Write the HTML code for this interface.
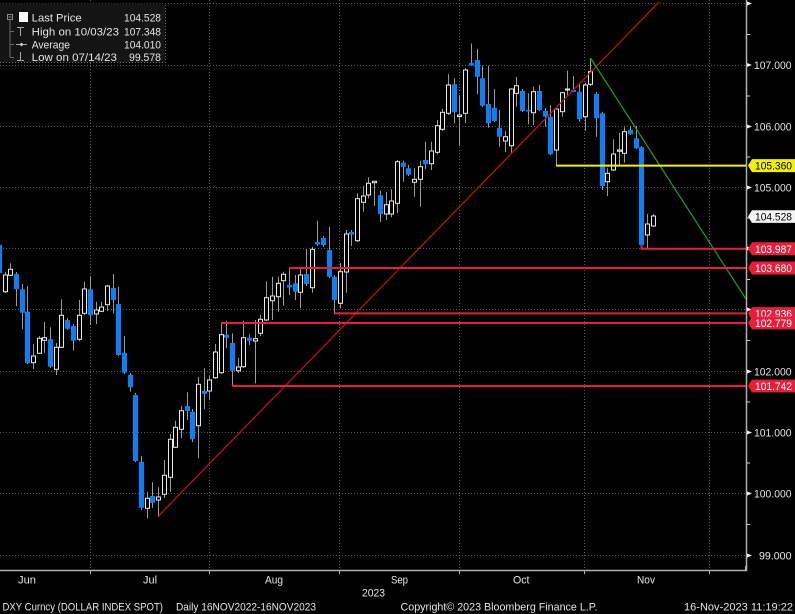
<!DOCTYPE html>
<html><head><meta charset="utf-8"><style>
html,body{margin:0;padding:0;background:#000;}
svg{display:block;}
text{font-family:"Liberation Sans","DejaVu Sans",sans-serif;font-size:11px;fill:#e4e4e4;}
</style></head><body>
<svg width="795" height="614" viewBox="0 0 795 614" xmlns="http://www.w3.org/2000/svg">
<rect x="0" y="0" width="795" height="614" fill="#000"/>
<!-- grid -->
<g stroke="#5a5a5a" stroke-width="1" stroke-dasharray="1 2" fill="none">
<path d="M0 3.5H746M0 65.5H746M0 126.5H746M0 187.5H746M0 248.5H746M0 309.5H746M0 371.5H746M0 432.5H746M0 493.5H746M0 555.5H746"/>
<path d="M90.5 0V570M209.5 0V570M339.5 0V570M459.5 0V570M584.5 0V570M709.5 0V570"/>
</g>
<!-- wicks -->
<path fill="none" stroke="#9a9a9a" stroke-width="1" d="M-0.5 240V278M5.5 271.7V293M10.5 263.3V276M16.5 272V306M22.5 284V329.3M27.5 286V364M33.5 344V369.3M39.5 336V354M44.5 322V352.7M50.5 327.3V368M56.5 343V375M61.5 299.3V348M67.5 318V330M73.5 324V350.7M79.5 300V341M84.5 281.7V315M90.5 276.7V325M96.5 301.7V324M101.5 302V312M107.5 285V311M113.5 274V313.3M118.5 287V356M124.5 336V374M130.5 373V391.7M135.5 393V462M141.5 456V510M147.5 491.7V518.3M152.5 482.3V507.7M158.5 487.3V517M164.5 460V497.7M170.5 434V492M175.5 420.7V448M181.5 406V438.3M187.5 392.3V420M192.5 409V442M198.5 377V458.3M204.5 368.3V409.3M209.5 376V399.3M215.5 344V379M221.5 323.3V374M226.5 320.7V348.3M232.5 333.3V386M238.5 358V373M243.5 320.7V368M249.5 334.3V345M255.5 320V383.3M260.5 315V336M266.5 281.3V321M272.5 276.7V320M278.5 276.7V311.7M283.5 271.7V305.7M289.5 268V295M295.5 275V300M300.5 266.7V308.3M306.5 249.3V286M312.5 246.7V292.7M317.5 220.7V246M323.5 236V247M329.5 226.7V278M334.5 275V313.4M340.5 263.3V308.3M346.5 230V292.7M351.5 230V246M357.5 193.3V242M363.5 186V211.7M368.5 177.3V198.3M374.5 181V206M380.5 190.7V222M386.5 192V220M391.5 189.3V217.3M397.5 160V213.3M403.5 160.7V181.7M408.5 165V176M414.5 168.3V196.7M420.5 160.7V206.7M425.5 141.7V169M431.5 141.7V170M437.5 120V154.3M442.5 109V131M448.5 74.3V115M454.5 78.3V123.3M459.5 95V145.7M465.5 68V123.3M471.5 43.5V66M477.5 49V94.3M482.5 65.7V107M488.5 65.7V127.7M494.5 89V122M499.5 110V146.7M505.5 131V152.3M511.5 88.3V153.3M516.5 76.7V106.7M522.5 89V112M528.5 93.3V124.3M533.5 86.7V125M539.5 85V111M545.5 108V126.7M550.5 105V155M556.5 109V165.5M562.5 91.7V116.7M567.5 70.7V96M573.5 76V92M579.5 82.7V121.7M585.5 82.7V130.7M590.5 58.3V86M596.5 92V136.7M602.5 111.7V190M607.5 168.3V196M613.5 139.3V171M619.5 132.7V165M624.5 127.3V162.7M630.5 126V135M636.5 126V149M641.5 146V248.8M647.5 214V248.3M653.5 214V227"/>
<!-- down candles -->
<path fill="#0a80f2" d="M-3 245h5V273h-5ZM14 274h5V289.3h-5ZM20 289.3h5V312.7h-5ZM25 311.7h5V363.3h-5ZM48 339.3h5V366.7h-5ZM65 320h5V328.7h-5ZM71 326h5V340.7h-5ZM88 289.3h5V315.3h-5ZM111 288h5V300h-5ZM116 304h5V355h-5ZM122 352.7h5V372.7h-5ZM128 374.7h5V387.3h-5ZM133 395h5V461h-5ZM139 461.7h5V507.7h-5ZM150 496h5V502.7h-5ZM185 406h5V411h-5ZM190 411.7h5V439.3h-5ZM202 391h5V394h-5ZM224 334.7h5V337.7h-5ZM230 343h5V370.7h-5ZM247 337.7h5V340.7h-5ZM287 285h5V287.5h-5ZM293 283.3h5V291.7h-5ZM304 274h5V284h-5ZM315 242h5V244.5h-5ZM321 238h5V245h-5ZM327 250h5V276.7h-5ZM332 276.7h5V300h-5ZM349 232h5V234.5h-5ZM378 195.3h5V214h-5ZM401 162.7h5V166.7h-5ZM406 168.3h5V174.7h-5ZM423 160h5V164.3h-5ZM452 84.3h5V112.3h-5ZM469 63h5V65.5h-5ZM475 60h5V76.7h-5ZM480 78.3h5V105.7h-5ZM486 104h5V123.3h-5ZM492 107.7h5V121h-5ZM497 127.7h5V136.7h-5ZM520 91h5V111h-5ZM526 110h5V111.5h-5ZM537 91h5V110h-5ZM543 111h5V116.7h-5ZM548 116.7h5V154.3h-5ZM571 90h5V92h-5ZM577 91.7h5V119.3h-5ZM594 94h5V118.3h-5ZM600 113.3h5V186h-5ZM628 130h5V134.3h-5ZM634 138.3h5V148.3h-5ZM639 147.3h5V245h-5Z"/>
<!-- up candles -->
<g fill="#000" stroke="#e8e8e8" stroke-width="1">
<rect x="3.5" y="275" width="4" height="16.7"/><rect x="8.5" y="269.3" width="4" height="6"/><rect x="31.5" y="356" width="4" height="6.7"/><rect x="37.5" y="338.3" width="4" height="15"/><rect x="42.5" y="337.7" width="4" height="2.6"/><rect x="54.5" y="347.3" width="4" height="22"/><rect x="59.5" y="315.3" width="4" height="32"/><rect x="77.5" y="315.3" width="4" height="24"/><rect x="82.5" y="289" width="4" height="24.3"/><rect x="94.5" y="310" width="4" height="4"/><rect x="99.5" y="307" width="4" height="4.3"/><rect x="105.5" y="286" width="4" height="18.7"/><rect x="145.5" y="498.3" width="4" height="10"/><rect x="156.5" y="497" width="4" height="3"/><rect x="162.5" y="475.3" width="4" height="19"/><rect x="168.5" y="439.3" width="4" height="38"/><rect x="173.5" y="427.3" width="4" height="20"/><rect x="179.5" y="410.7" width="4" height="18.6"/><rect x="196.5" y="384.3" width="4" height="41.4"/><rect x="207.5" y="380" width="4" height="11"/><rect x="213.5" y="352" width="4" height="25.7"/><rect x="219.5" y="334.7" width="4" height="38"/><rect x="236.5" y="367" width="4" height="3.7"/><rect x="241.5" y="337.7" width="4" height="29"/><rect x="253.5" y="338.7" width="4" height="2.3"/><rect x="258.5" y="319.3" width="4" height="14"/><rect x="264.5" y="297.7" width="4" height="22.3"/><rect x="270.5" y="296" width="4" height="4.7"/><rect x="276.5" y="283.3" width="4" height="13.4"/><rect x="281.5" y="274.3" width="4" height="6.4"/><rect x="298.5" y="275" width="4" height="17.3"/><rect x="310.5" y="249.3" width="4" height="38.4"/><rect x="338.5" y="271.7" width="4" height="31.6"/><rect x="344.5" y="234" width="4" height="38"/><rect x="355.5" y="198.7" width="4" height="42"/><rect x="361.5" y="196" width="4" height="6.3"/><rect x="366.5" y="183.3" width="4" height="11.7"/><rect x="372.5" y="181.3" width="4" height="1.4"/><rect x="384.5" y="204.7" width="4" height="9.3"/><rect x="389.5" y="201" width="4" height="13"/><rect x="395.5" y="161.7" width="4" height="41.6"/><rect x="412.5" y="179.3" width="4" height="3"/><rect x="418.5" y="166.7" width="4" height="12.6"/><rect x="429.5" y="151" width="4" height="12.7"/><rect x="435.5" y="125.7" width="4" height="26.6"/><rect x="440.5" y="112.3" width="4" height="17"/><rect x="446.5" y="85" width="4" height="28.3"/><rect x="457.5" y="115" width="4" height="1.5"/><rect x="463.5" y="70" width="4" height="43.3"/><rect x="503.5" y="136.7" width="4" height="4.3"/><rect x="509.5" y="89" width="4" height="56.7"/><rect x="514.5" y="85.7" width="4" height="7.6"/><rect x="531.5" y="91.7" width="4" height="21"/><rect x="554.5" y="109" width="4" height="41"/><rect x="560.5" y="92.7" width="4" height="19"/><rect x="565.5" y="89" width="4" height="1"/><rect x="583.5" y="85" width="4" height="31.7"/><rect x="588.5" y="71.7" width="4" height="12.6"/><rect x="605.5" y="173.3" width="4" height="8.4"/><rect x="611.5" y="154" width="4" height="16"/><rect x="617.5" y="150" width="4" height="1.3"/><rect x="622.5" y="131.7" width="4" height="21.6"/><rect x="645.5" y="224" width="4" height="11"/><rect x="651.5" y="216" width="4" height="10"/>
</g>
<!-- study lines -->
<line x1="158.5" y1="516" x2="659" y2="2" stroke="#b4141e" stroke-width="1.3"/>
<line x1="590.5" y1="58" x2="746" y2="299" stroke="#1ea01e" stroke-width="1.2"/>
<g stroke="#e61f3d" stroke-width="2" fill="none">
<path d="M641.5 245V248.8H746"/>
<path d="M289 268H746"/>
<path d="M334 313.4H746"/>
<path d="M221 323H746"/>
<path d="M232.5 386H746"/>
</g>
<path d="M556 165.6H746" stroke="#f2f200" stroke-width="2" fill="none"/>
<!-- axes -->
<line x1="746.5" y1="0" x2="746.5" y2="571" stroke="#b0b0b0" stroke-width="1.5"/>
<line x1="0" y1="570.5" x2="747" y2="570.5" stroke="#b0b0b0" stroke-width="1.5"/>
<path d="M90.5 570V574M209.5 570V574M339.5 570V574M459.5 570V574M584.5 570V574M709.5 570V574M745.5 566V570" stroke="#b0b0b0" stroke-width="1"/>
<g fill="#f0f0f0">
<path d="M747 1.5l5 2-5 2Z"/><path d="M747 63l5 2-5 2Z"/><path d="M747 124.5l5 2-5 2Z"/><path d="M747 185.5l5 2-5 2Z"/><path d="M747 246.5l5 2-5 2Z"/><path d="M747 307.5l5 2-5 2Z"/><path d="M747 369.5l5 2-5 2Z"/><path d="M747 430.5l5 2-5 2Z"/><path d="M747 491.5l5 2-5 2Z"/><path d="M747 553.5l5 2-5 2Z"/>
</g>
<path d="M747 34.5h3M747 96h3M747 157h3M747 218h3M747 279.5h3M747 340.5h3M747 402h3M747 463h3M747 524.5h3" stroke="#cfcfcf" stroke-width="1"/>
<text x="754" y="69" textLength="37.5" lengthAdjust="spacingAndGlyphs">107.000</text>
<text x="754" y="130.5" textLength="37.5" lengthAdjust="spacingAndGlyphs">106.000</text>
<text x="754" y="191.5" textLength="37.5" lengthAdjust="spacingAndGlyphs">105.000</text>
<text x="754" y="375.5" textLength="37.5" lengthAdjust="spacingAndGlyphs">102.000</text>
<text x="754" y="436.5" textLength="37.5" lengthAdjust="spacingAndGlyphs">101.000</text>
<text x="754" y="497.5" textLength="37.5" lengthAdjust="spacingAndGlyphs">100.000</text>
<text x="759" y="559.5" textLength="32.5" lengthAdjust="spacingAndGlyphs">99.000</text>
<!-- value labels -->
<path d="M748 165.6L752 159.1H795V172.1H752Z" fill="#f2f200"/>
<text x="755" y="169.6" textLength="37" lengthAdjust="spacingAndGlyphs" style="fill:#000">105.360</text>
<path d="M748 216.6L752 210.3H795V222.9H752Z" fill="#f4f4f4"/>
<text x="755" y="220.6" textLength="37" lengthAdjust="spacingAndGlyphs" style="fill:#000">104.528</text>
<path d="M748 248.8L752 242.3H795V255.3H752Z" fill="#e61f3d"/>
<text x="755" y="252.8" textLength="37" lengthAdjust="spacingAndGlyphs" style="fill:#fff">103.987</text>
<path d="M748 268L752 261.5H795V274.5H752Z" fill="#e61f3d"/>
<text x="755" y="272" textLength="37" lengthAdjust="spacingAndGlyphs" style="fill:#fff">103.680</text>
<path d="M748 313.4L752 307.1H795V320H752Z" fill="#e61f3d"/>
<text x="755" y="317.4" textLength="37" lengthAdjust="spacingAndGlyphs" style="fill:#fff">102.936</text>
<path d="M748 323L752 316.6H795V329.4H752Z" fill="#e61f3d"/>
<text x="755" y="327" textLength="37" lengthAdjust="spacingAndGlyphs" style="fill:#fff">102.779</text>
<path d="M748 386L752 379.6H795V392.4H752Z" fill="#e61f3d"/>
<text x="755" y="390" textLength="37" lengthAdjust="spacingAndGlyphs" style="fill:#fff">101.742</text>
<!-- x labels -->
<text x="18" y="583.5" textLength="18" lengthAdjust="spacingAndGlyphs">Jun</text>
<text x="143" y="583.5" textLength="14" lengthAdjust="spacingAndGlyphs">Jul</text>
<text x="265" y="583.5" textLength="18" lengthAdjust="spacingAndGlyphs">Aug</text>
<text x="391" y="583.5" textLength="17" lengthAdjust="spacingAndGlyphs">Sep</text>
<text x="513" y="583.5" textLength="16.5" lengthAdjust="spacingAndGlyphs">Oct</text>
<text x="637" y="583.5" textLength="18" lengthAdjust="spacingAndGlyphs">Nov</text>
<text x="362" y="596.5" textLength="23" lengthAdjust="spacingAndGlyphs">2023</text>
<!-- footer -->
<text x="2.5" y="610.5" textLength="160.5" lengthAdjust="spacingAndGlyphs">DXY Curncy (DOLLAR INDEX SPOT)</text>
<text x="176" y="610.5" textLength="140" lengthAdjust="spacingAndGlyphs">Daily 16NOV2022-16NOV2023</text>
<text x="400.5" y="610.5" textLength="197" lengthAdjust="spacingAndGlyphs">Copyright© 2023 Bloomberg Finance L.P.</text>
<text x="684" y="610.5" textLength="109" lengthAdjust="spacingAndGlyphs">16-Nov-2023 11:19:22</text>
<!-- legend -->
<rect x="0" y="3.5" width="165.5" height="59" fill="#141414"/>
<path d="M0 62.5H165.5V3.5" fill="none" stroke="#6a6a6a" stroke-width="1" stroke-dasharray="1 2"/>
<rect x="7.5" y="14.5" width="5" height="5" fill="none" stroke="#8a8a8a" stroke-width="1"/>
<path d="M8.5 17h3" stroke="#8a8a8a"/>
<path d="M10 19.5V57.5M10 31.5H14M10 44.5H14M10 57.5H14" stroke="#6a6a6a" stroke-width="1" fill="none"/>
<rect x="19" y="12" width="9" height="10" fill="#ffffff"/>
<path d="M17 27.5H24M20.5 27.5V36" stroke="#aaa" stroke-width="1" fill="none"/>
<path d="M16 44.5H27" stroke="#aaa" stroke-width="1"/>
<path d="M21.5 42.5l2 2-2 2-2-2Z" fill="#ccc"/>
<path d="M20.5 52V60.5M17 60.5H24" stroke="#aaa" stroke-width="1" fill="none"/>
<text x="31.7" y="21.5" textLength="50" lengthAdjust="spacingAndGlyphs">Last Price</text>
<text x="124" y="21.5" textLength="37" lengthAdjust="spacingAndGlyphs">104.528</text>
<text x="31.7" y="35.5" textLength="87.3" lengthAdjust="spacingAndGlyphs">High on 10/03/23</text>
<text x="124" y="35.5" textLength="37" lengthAdjust="spacingAndGlyphs">107.348</text>
<text x="31.7" y="48.3" textLength="38.3" lengthAdjust="spacingAndGlyphs">Average</text>
<text x="124" y="48.3" textLength="37" lengthAdjust="spacingAndGlyphs">104.010</text>
<text x="31.7" y="60.8" textLength="85.3" lengthAdjust="spacingAndGlyphs">Low on 07/14/23</text>
<text x="129" y="60.8" textLength="32" lengthAdjust="spacingAndGlyphs">99.578</text>
</svg>
</body></html>
